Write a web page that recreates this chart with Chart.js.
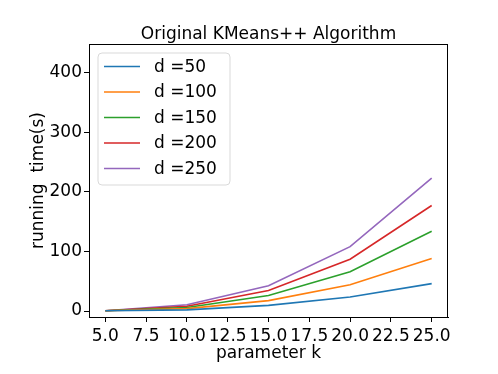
<!DOCTYPE html>
<html>
<head>
<meta charset="utf-8">
<script src="https://cdn.jsdelivr.net/npm/chart.js@4/dist/chart.umd.min.js"></script>
<style>
  html, body { margin: 0; padding: 0; background: #fff; }
  canvas { display: block; }
</style>
</head>
<body>
<canvas id="kmeans-chart" width="498" height="374"></canvas>
<script>
// data
const kValues = [5, 10, 15, 20, 25];
const seriesLabels = ["d =50", "d =100", "d =150", "d =200", "d =250"];
const d50 = [0.5, 2, 9.5, 23.5, 46];
const d100 = [0.5, 4, 17.5, 44, 88];
const d150 = [0.5, 6, 26, 66, 134];
const d200 = [0.5, 8, 34.5, 87, 177];
const d250 = [0.5, 10.5, 42.5, 108, 223];
const xTicks = [5, 7.5, 10, 12.5, 15, 17.5, 20, 22.5, 25];
const yTicks = [0, 100, 200, 300, 400];

const colors = ['#1f77b4', '#ff7f0e', '#2ca02c', '#d62728', '#9467bd'];
const allSeries = [d50, d100, d150, d200, d250];
const FONT = "'DejaVu Sans', sans-serif";

const chartData = {
    datasets: allSeries.map((vals, i) => ({
        label: seriesLabels[i],
        data: kValues.map((k, j) => ({ x: k, y: vals[j] })),
        borderColor: colors[i],
        backgroundColor: colors[i],
        borderWidth: 1.6,
        pointRadius: 0,
        tension: 0,
        fill: false
    }))
};

// title, axis titles, frame and in-plot legend, matplotlib style
const decorations = {
    id: 'decorations',
    afterDraw(chart) {
        const ctx = chart.ctx;
        const a = chart.chartArea;
        ctx.save();

        // frame
        ctx.strokeStyle = '#000';
        ctx.lineWidth = 1;
        ctx.strokeRect(Math.round(a.left) + 0.5, Math.round(a.top) + 0.5,
            Math.round(a.right - a.left) - 1, Math.round(a.bottom - a.top));

        ctx.fillStyle = '#000';
        ctx.textAlign = 'center';
        ctx.textBaseline = 'alphabetic';
        ctx.font = '17px ' + FONT;
        ctx.fillText('Original KMeans++ Algorithm', (a.left + a.right) / 2, 39);

        ctx.font = '17px ' + FONT;
        ctx.fillText('parameter k', (a.left + a.right) / 2, 358);

        ctx.save();
        ctx.translate(43, (a.top + a.bottom) / 2);
        ctx.rotate(-Math.PI / 2);
        ctx.fillText('running  time(s)', 0, 0);
        ctx.restore();

        // legend box
        const bx = 98, by = 53, bw = 132, bh = 132, r = 4;
        ctx.beginPath();
        ctx.moveTo(bx + r, by);
        ctx.arcTo(bx + bw, by, bx + bw, by + bh, r);
        ctx.arcTo(bx + bw, by + bh, bx, by + bh, r);
        ctx.arcTo(bx, by + bh, bx, by, r);
        ctx.arcTo(bx, by, bx + bw, by, r);
        ctx.closePath();
        ctx.fillStyle = 'rgba(255,255,255,0.8)';
        ctx.fill();
        ctx.strokeStyle = '#d9d9d9';
        ctx.lineWidth = 1;
        ctx.stroke();

        ctx.textAlign = 'left';
        ctx.textBaseline = 'middle';
        chart.data.datasets.forEach((ds, i) => {
            const y = 66.5 + i * 25.5;
            ctx.strokeStyle = ds.borderColor;
            ctx.lineWidth = 1.6;
            ctx.beginPath();
            ctx.moveTo(104, y);
            ctx.lineTo(140, y);
            ctx.stroke();
            ctx.fillStyle = '#000';
            ctx.fillText(ds.label, 154, y + 1);
        });

        ctx.restore();
    }
};

const chartOptions = {
    responsive: false,
    animation: false,
    devicePixelRatio: 1,
    layout: { padding: { left: 0, right: 50, top: 44, bottom: 0 } },
    plugins: {
        legend: { display: false },
        title: { display: false },
        tooltip: { enabled: false }
    },
    scales: {
        x: {
            type: 'linear',
            min: 4,
            max: 26,
            afterFit: s => { s.height = 57; },
            afterBuildTicks: s => { s.ticks = xTicks.map(v => ({ value: v })); },
            grid: { drawOnChartArea: false, tickLength: 5, color: '#000' },
            border: { color: '#000' },
            ticks: {
                color: '#000',
                padding: 4,
                maxRotation: 0,
                autoSkip: false,
                font: { family: FONT, size: 17 },
                callback: v => v.toFixed(1)
            }
        },
        y: {
            min: -10,
            max: 448,
            afterFit: s => { s.width = 89; },
            afterBuildTicks: s => { s.ticks = yTicks.map(v => ({ value: v })); },
            grid: { drawOnChartArea: false, tickLength: 5, color: '#000' },
            border: { color: '#000' },
            ticks: {
                color: '#000',
                padding: 2,
                font: { family: FONT, size: 17 },
                callback: v => String(v)
            }
        }
    }
};

const kmeansChart = new Chart(document.getElementById('kmeans-chart'), {
    type: 'line',
    data: chartData,
    options: chartOptions,
    plugins: [decorations]
});
</script>
</body>
</html>
